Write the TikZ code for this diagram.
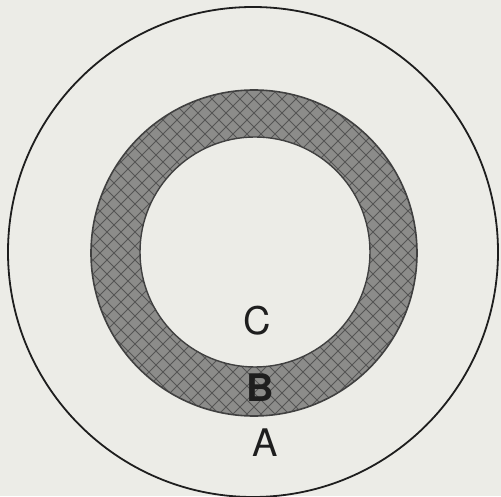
\documentclass[tikz,border=0pt]{standalone}
\usepackage{fontspec}
\setmainfont{TeX Gyre Heros}
\definecolor{paper}{RGB}{236,236,231}
\definecolor{ringfill}{RGB}{140,140,138}
\definecolor{hatch}{RGB}{85,85,85}
\definecolor{ink}{RGB}{30,30,30}
\tikzset{
  lbl/.style={font=\fontsize{38}{38}\selectfont, text=ink, inner sep=0pt},
}
\begin{document}
\begin{tikzpicture}[x=1pt,y=1pt]
\fill[paper] (0,0) rectangle (501,496);
\useasboundingbox (0,0) rectangle (501,496);
% outer circle
\draw[ink, line width=1.8pt] (253,244) circle[radius=245];
% ring
\fill[ringfill, even odd rule] (254,243) circle[radius=163] (255,244) circle[radius=115];
\begin{scope}[even odd rule]
  \clip (254,243) circle[radius=163] (255,244) circle[radius=115];
  \foreach \k in {-45,...,45} {
    \draw[hatch, line width=1pt] (\k*14+254-200,43) -- ++(400,400);
    \draw[hatch, line width=1pt] (\k*14+254+200,43) -- ++(-400,400);
  }
\end{scope}
\draw[ink!85, line width=1.6pt] (254,243) circle[radius=163];
\draw[ink!85, line width=1.4pt] (255,244) circle[radius=115];
% labels
\node[lbl] (c) at (257,175) {C};
\node[lbl, font=\fontsize{38}{38}\selectfont\bfseries] (b) at (260,108) {B};
\node[lbl] (a) at (265,53) {A};
\end{tikzpicture}
\end{document}
